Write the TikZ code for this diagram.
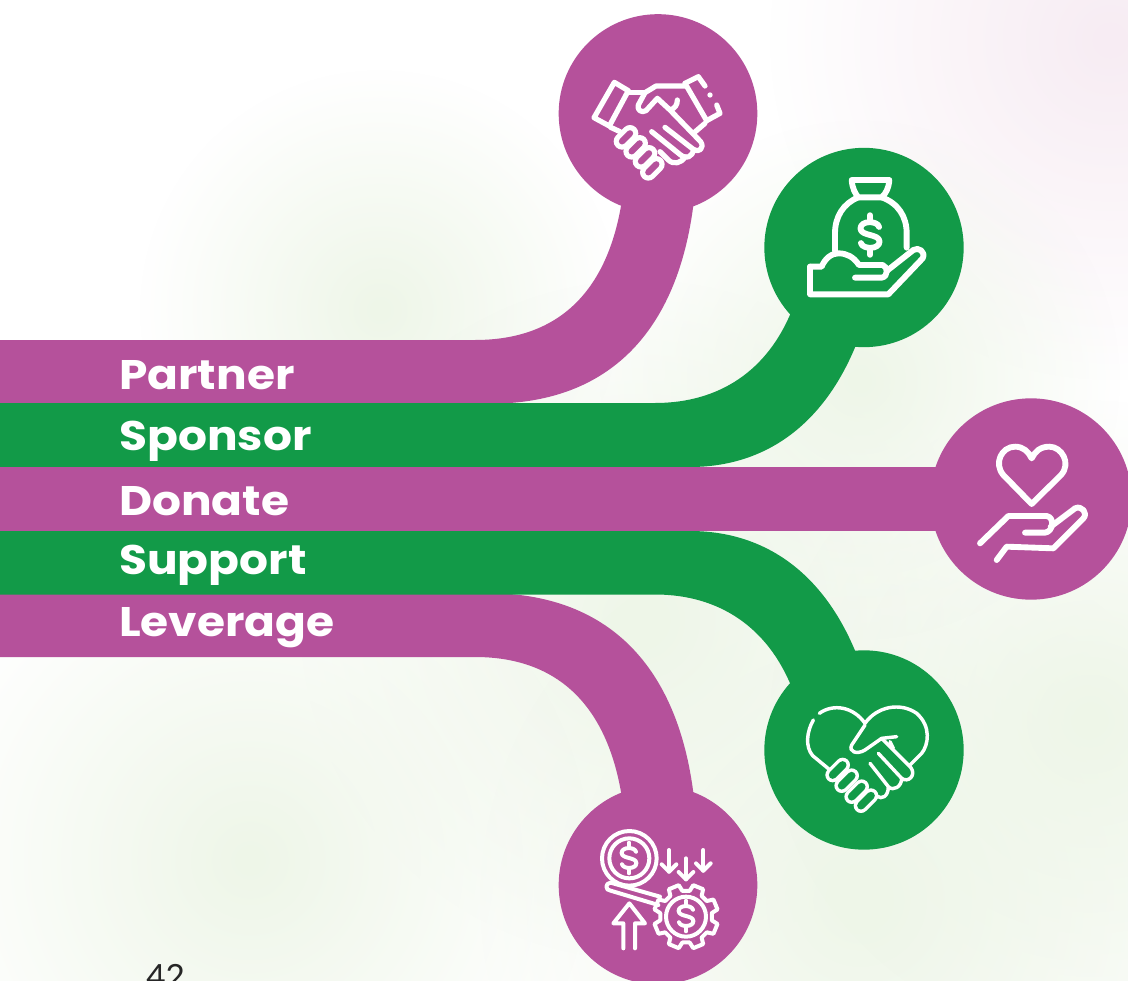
\documentclass[tikz,border=0pt]{standalone}
\usepackage{fontspec}
\setmainfont{Poppins}
\newfontfamily\labelfont[FakeStretch=1.1]{Poppins Bold}
\newfontfamily\numfont{Lato}
\usetikzlibrary{fadings}
\definecolor{plum}{HTML}{B5519B}
\definecolor{leaf}{HTML}{129A48}
\definecolor{blobgreen}{HTML}{EEF6E8}
\definecolor{blobpink}{HTML}{F7ECF3}
\tikzfading[name=softblob,inner color=transparent!0,outer color=transparent!100]
\tikzset{
  blob/.style={fill=#1,path fading=softblob,draw=none},
  band/.style={fill=#1,draw=none},
  disc/.style={fill=#1,draw=none,circle,inner sep=0pt},
  label/.style={text=white,font=\labelfont\fontsize{31}{36}\selectfont,anchor=base west,inner sep=0pt},
  iconline/.style={draw=white,line width=3.9pt,line cap=round,line join=round},
  heavyline/.style={draw=white,line width=4.4pt,line cap=round,line join=round},
  thinline/.style={draw=white,line width=2.6pt,line cap=round,line join=round},
  coinline/.style={draw=white,line width=3pt,line cap=round,line join=round},
  zoomed/.style={shift={#1},x=0.25pt,y=-0.25pt}
}
\newcommand{\dollarat}[4]{%
  \begin{scope}[shift={(#1,#2)},x=#3pt,y=-#3pt]
    \draw[#4] (0.62,-0.55) .. controls (0.5,-1.0) and (-0.65,-1.0) .. (-0.65,-0.45)
      .. controls (-0.65,0.1) and (0.65,-0.1) .. (0.65,0.45)
      .. controls (0.65,1.0) and (-0.5,1.0) .. (-0.62,0.55);
    \draw[#4] (0,-1.0) -- (0,-1.35) (0,1.0) -- (0,1.35);
  \end{scope}}
% finger: centre, half extent along the up-right diagonal, outer and inner width, fill colour
\newcommand{\fingerat}[6]{%
  \draw[white,line width=#4pt,line cap=round] (#1-#3,#2+#3) -- (#1+#3,#2-#3);
  \draw[#6,line width=#5pt,line cap=round] (#1-#3,#2+#3) -- (#1+#3,#2-#3);}
\begin{document}
\begin{tikzpicture}[x=0.75pt,y=-0.75pt]
\useasboundingbox (0,0) rectangle (1128,981);
\clip (0,0) rectangle (1128,981);
\fill[white] (0,0) rectangle (1128,981);
% soft background
\fill[blob=blobpink] (1110,40) circle (340);
\fill[blob=blobgreen] (380,310) circle (240);
\fill[blob=blobgreen] (640,620) circle (340);
\fill[blob=blobgreen] (860,900) circle (380);
\fill[blob=blobgreen] (250,860) circle (340);
\fill[blob=blobgreen] (1090,720) circle (320);
\fill[blob=blobgreen] (860,380) circle (260);
% bands
\fill[band=plum] (0,340) -- (475,340) .. controls (560,340) and (608,290) .. (622,200)
  -- (694,200) .. controls (680,320) and (620,395) .. (510,403) -- (0,403) -- cycle;
\fill[band=plum] (0,657) -- (475,657) .. controls (560,657) and (608,708) .. (622,798)
  -- (694,798) .. controls (680,678) and (620,603) .. (510,594) -- (0,594) -- cycle;
\fill[band=leaf] (0,403) -- (655,403) .. controls (720,403) and (768,370) .. (792,310)
  -- (858,340) .. controls (825,425) and (765,467) .. (690,467) -- (0,467) -- cycle;
\fill[band=leaf] (0,594.5) -- (655,594.5) .. controls (720,594.5) and (768,628) .. (792,688)
  -- (858,658) .. controls (825,573) and (765,531) .. (690,531) -- (0,531) -- cycle;
\fill[band=plum] (0,467) rectangle (960,531);
% discs
\node[disc=plum,minimum size=149pt] (partnerdisc) at (658,113.5) {};
\node[disc=leaf,minimum size=149.5pt] (sponsordisc) at (864,247.5) {};
\node[disc=plum,minimum size=151pt] (donatedisc) at (1031,499) {};
\node[disc=leaf,minimum size=149.5pt] (supportdisc) at (864,750) {};
\node[disc=plum,minimum size=149pt] (leveragedisc) at (658,885) {};
% labels
\node[label] (partner) at (119,389) {Partner};
\node[label] (sponsor) at (119,450) {Sponsor};
\node[label] (donate) at (119,515) {Donate};
\node[label] (support) at (119,574) {Support};
\node[label] (leverage) at (119,636) {Leverage};
\node[anchor=base west,inner sep=0pt,text=black!85,font=\numfont\fontsize{25}{30}\selectfont] (pageno) at (146,988) {42};
% handshake icon
\begin{scope}[zoomed={(570,50)}]
  \draw[iconline] (133,97) -- (175,122) -- (118,228) -- (72,203) -- cycle;
  \draw[iconline] (178,128) -- (225,128);
  \draw[iconline] (345,100) -- (385,80) -- (405,108);
  \draw[iconline] (440,165) -- (450,190) -- (410,212);
  \draw[iconline] (345,100) -- (410,212);
  \fill[white] (420,135) circle (8);
  \draw[iconline] (345,108) -- (258,108) -- (225,128) -- (205,165) .. controls (200,180) and (215,190) .. (228,182) -- (262,145) -- (300,180) .. controls (315,175) and (322,165) .. (322,150);
  \draw[iconline] (300,180) -- (392,275) .. controls (405,295) and (385,310) .. (370,298) -- (285,232);
  \draw[iconline] (370,298) .. controls (370,320) and (345,330) .. (332,315) -- (245,245);
  \draw[iconline] (345,320) .. controls (335,340) and (310,345) .. (295,330) -- (270,305);
  \draw[iconline] (370,250) -- (405,220);
  \draw[iconline] (122,232) -- (150,245);
  \fingerat{168}{262}{12}{12.5}{4.7}{plum}
  \fingerat{197}{292}{12}{12.5}{4.7}{plum}
  \fingerat{225}{322}{12}{12.5}{4.7}{plum}
  \fingerat{247}{355}{12}{12.5}{4.7}{plum}
\end{scope}
% money bag icon
\begin{scope}[zoomed={(790,165)}]
  \draw[heavyline] (185,45) -- (298,45) .. controls (296,70) and (288,85) .. (275,97) -- (205,97) .. controls (195,85) and (187,70) .. (185,45) -- cycle;
  \draw[heavyline] (205,97) .. controls (160,115) and (135,155) .. (135,205) -- (135,258);
  \draw[heavyline] (275,97) .. controls (325,115) and (350,155) .. (350,205) -- (350,248);
  \draw[heavyline] (60,305) -- (95,305) .. controls (105,280) and (125,265) .. (145,265) .. controls (170,265) and (190,275) .. (207,300) -- (278,300) .. controls (295,305) and (295,335) .. (275,338) -- (195,338);
  \draw[heavyline] (60,305) -- (60,388) -- (295,388) -- (398,280) .. controls (408,260) and (385,245) .. (370,255) -- (290,318);
\end{scope}
\dollarat{870}{235}{11}{heavyline}
% hand and heart icon
\begin{scope}[zoomed={(960,430)}]
  \draw[heavyline] (215,222) -- (130,135) .. controls (100,100) and (125,50) .. (165,50) .. controls (190,50) and (205,65) .. (215,85) .. controls (225,65) and (240,50) .. (268,50) .. controls (305,50) and (335,100) .. (303,135) -- cycle;
  \draw[heavyline] (60,340) -- (145,258) -- (260,258) .. controls (285,262) and (280,305) .. (255,308) -- (195,308);
  \draw[heavyline] (272,290) -- (345,235) .. controls (365,225) and (385,250) .. (370,265) -- (280,355) -- (140,350) -- (110,390);
\end{scope}
% heart handshake icon
\begin{scope}[zoomed={(790,690)}]
  \draw[thinline] (70,90) .. controls (50,125) and (45,170) .. (68,197) -- (120,240);
  \draw[thinline] (88,70) .. controls (130,40) and (190,50) .. (225,100) .. controls (260,50) and (330,35) .. (380,70) .. controls (425,110) and (415,165) .. (395,190) -- (360,225);
  \draw[thinline] (225,105) -- (185,165) .. controls (175,185) and (200,195) .. (225,180) -- (275,145) -- (362,232) .. controls (380,255) and (355,280) .. (335,265) -- (265,190);
  \draw[thinline] (275,145) -- (320,140);
  \draw[thinline] (300,155) -- (310,175);
  \draw[thinline] (335,265) .. controls (335,290) and (310,305) .. (295,290) -- (240,220);
  \draw[thinline] (295,290) .. controls (295,320) and (275,330) .. (260,318);
  \fingerat{143}{240}{15}{11}{5.8}{leaf}
  \fingerat{170}{272}{15}{11}{5.8}{leaf}
  \fingerat{200}{305}{15}{11}{5.8}{leaf}
  \fingerat{228}{332}{15}{11}{5.8}{leaf}
\end{scope}
% coin and gear icon
\begin{scope}[zoomed={(590,820)}]
  \draw[coinline] (118,115) circle (82);
  \draw[coinline] (118,115) circle (60);
  \draw[coinline] (62,188) -- (210,230);
  \draw[coinline] (62,188) .. controls (45,188) and (45,212) .. (62,212) -- (205,255);
  \foreach \ax/\atop/\abot in {237/90/155,288/115/178,340/90/152}{
    \draw[coinline] (\ax,\atop) -- (\ax,\abot);
    \draw[coinline] (\ax-22,\abot-22) -- (\ax,\abot) -- (\ax+22,\abot-22);
  }
  \draw[coinline] (100,385) -- (100,310) -- (70,310) -- (118,250) -- (165,310) -- (135,310) -- (135,385);
  \draw[coinline] (288,290) circle (60);
  \draw[coinline] ({288+78*cos(8)},{290+78*sin(8)})
    \foreach \a in {0,45,...,315}{
      -- ({288+78*cos(\a+8)},{290+78*sin(\a+8)})
      -- ({288+97*cos(\a+13)},{290+97*sin(\a+13)})
      -- ({288+97*cos(\a+32)},{290+97*sin(\a+32)})
      -- ({288+78*cos(\a+37)},{290+78*sin(\a+37)})
    } -- cycle;
\end{scope}
\dollarat{686}{916}{8.5}{coinline}
\dollarat{629}{858}{8.5}{coinline}
\end{tikzpicture}
\end{document}
